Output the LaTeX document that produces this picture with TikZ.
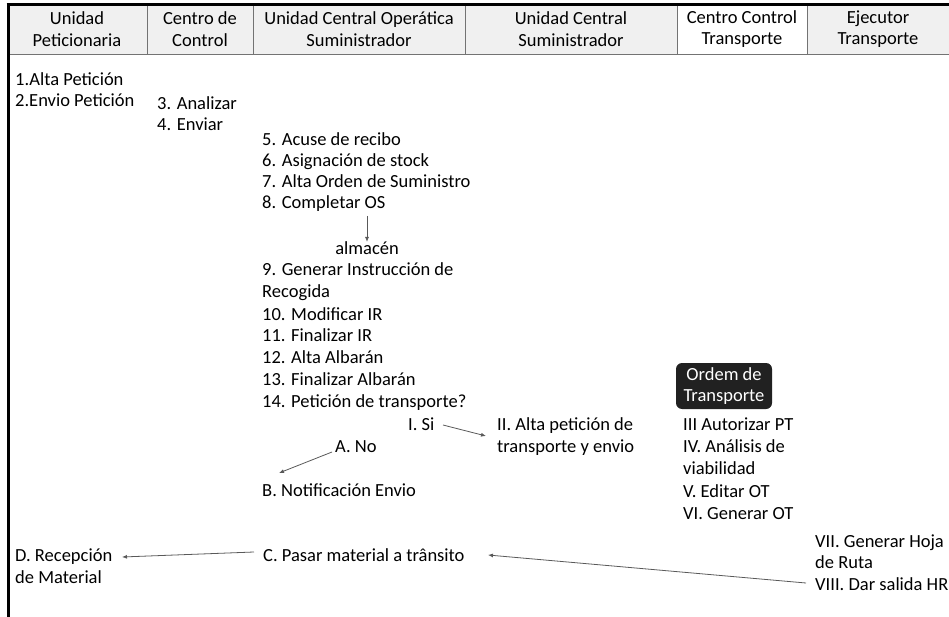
\documentclass[tikz,border=0pt]{standalone}
\usepackage{fontspec}
\setmainfont{Carlito}
\usetikzlibrary{arrows.meta}
\begin{document}
\begin{tikzpicture}[x=1pt,y=-1pt,
  txt/.style={anchor=base west,inner sep=0pt,font=\fontsize{18.5}{21.5}\selectfont},
  ctxt/.style={anchor=base,inner sep=0pt,font=\fontsize{18.5}{21.5}\selectfont},
  hdr/.style={align=center,inner sep=0pt,font=\fontsize{18.5}{21.5}\selectfont},
  hfill/.style={fill=black!6},
  hline/.style={draw=black!55,line width=0.8pt},
  arr/.style={draw=black!65,line width=0.8pt,-{Latex[length=5pt,width=4pt]}},
  darkbox/.style={fill=black!87,text=white,rounded corners=6pt,align=center,inner sep=0pt,
    minimum width=96pt,minimum height=46pt,font=\fontsize{18.5}{21.5}\selectfont}]
\useasboundingbox (0,0) rectangle (949,617);
% header
\fill[hfill] (8,5) rectangle (677,54);
\fill[hfill] (807,5) rectangle (949,54);
\draw[hline] (147,5) -- (147,54);
\draw[hline] (253,5) -- (253,54);
\draw[hline] (465,5) -- (465,54);
\draw[hline] (677,5) -- (677,54);
\draw[hline] (807,5) -- (807,54);
\draw[hline] (8,54) -- (949,54);
\draw[line width=3pt] (6.5,5) -- (949,5);
\draw[line width=3pt] (8,3.5) -- (8,617);
\node[hdr] (h1) at (77,29) {Unidad\\Peticionaria};
\node[hdr] (h2) at (200,29) {Centro de\\Control};
\node[hdr] (h3) at (359,29) {Unidad Central Operática\\Suministrador};
\node[hdr] (h4) at (571,29) {Unidad Central\\Suministrador};
\node[hdr] (h5) at (742,29) {Centro Control\\Transporte};
\node[hdr] (h6) at (878,29) {Ejecutor\\Transporte};
% column 1-2
\node[txt] (a1) at (15,86) {1.Alta Petición};
\node[txt] (a2) at (15,107) {2.Envio Petición};
\node[txt] (b3) at (157,110) {3. Analizar};
\node[txt] (b4) at (157,131) {4. Enviar};
% column 3
\node[txt] (c5) at (262,146) {5. Acuse de recibo};
\node[txt] (c6) at (262,167) {6. Asignación de stock};
\node[txt] (c7) at (262,188) {7. Alta Orden de Suministro};
\node[txt] (c8) at (262,209) {8. Completar OS};
\node[ctxt] (alm) at (367,255) {almacén};
\node[txt] (c9) at (262,276) {9. Generar Instrucción de};
\node[txt] (c9b) at (262,297) {Recogida};
\node[txt] (c10) at (262,320) {10. Modificar IR};
\node[txt] (c11) at (262,341) {11. Finalizar IR};
\node[txt] (c12) at (262,363) {12. Alta Albarán};
\node[txt] (c13) at (262,385) {13. Finalizar Albarán};
\node[txt] (c14) at (262,407) {14. Petición de transporte?};
\node[txt] (si) at (408,430) {I. Si};
\node[txt] (no) at (335,452) {A. No};
\node[txt] (bn) at (262,496) {B. Notificación Envio};
% column 4
\node[txt] (ii1) at (497,430) {II. Alta petición de};
\node[txt] (ii2) at (497,452) {transporte y envio};
% column 5
\node[darkbox] (ot) at (724,386) {Ordem de\\Transporte};
\node[txt] (t3) at (683,430) {III Autorizar PT};
\node[txt] (t4) at (683,452) {IV. Análisis de};
\node[txt] (t4b) at (683,474) {viabilidad};
\node[txt] (t5) at (683,497) {V. Editar OT};
\node[txt] (t6) at (683,519) {VI. Generar OT};
% column 6
\node[txt] (e7) at (815,547) {VII. Generar Hoja};
\node[txt] (e7b) at (815,568) {de Ruta};
\node[txt] (e8) at (815,590) {VIII. Dar salida HR};
% bottom
\node[txt] (d1) at (15,561) {D. Recepción};
\node[txt] (d2) at (15,583) {de Material};
\node[txt] (cp) at (263,561) {C. Pasar material a trânsito};
% connectors
\coordinate (almS) at (367,216);
\coordinate (siS) at (443,425);
\coordinate (iiE) at (486,436);
\coordinate (noS) at (332,452);
\coordinate (bnE) at (279,473);
\coordinate (cpS) at (254,552);
\coordinate (dE) at (122,557);
\coordinate (e8S) at (806,583);
\coordinate (cpE) at (488,555);
\draw[arr] (almS) -- (alm.north);
\draw[arr] (siS) -- (iiE);
\draw[arr] (noS) -- (bnE);
\draw[arr] (cpS) -- (dE);
\draw[arr] (e8S) -- (cpE);
\end{tikzpicture}
\end{document}
